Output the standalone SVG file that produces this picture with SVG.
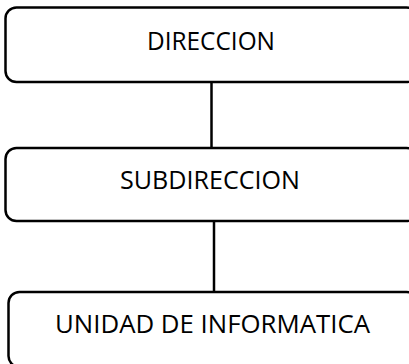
<svg xmlns="http://www.w3.org/2000/svg" width="409" height="364" viewBox="0 0 409 364">
<style>
.box{fill:#fff;stroke:#000;stroke-width:2.5}
.lbl{font-family:"Open Sans","Liberation Sans",sans-serif;font-size:25px;fill:#000;text-anchor:middle}
.con{stroke:#000;stroke-width:2.5;fill:none}
</style>
<rect width="409" height="364" fill="#fff"/>
<g id="connectors">
<line class="con" x1="211.5" y1="82" x2="211.5" y2="148"/>
<line class="con" x1="214" y1="221" x2="214" y2="292"/>
</g>
<g id="direccion">
<rect class="box" x="5.5" y="7.5" width="412" height="74.5" rx="11"/>
<text class="lbl" x="211" y="50" textLength="128" lengthAdjust="spacingAndGlyphs">DIRECCION</text>
</g>
<g id="subdireccion">
<rect class="box" x="5.5" y="148" width="412" height="73" rx="11"/>
<text class="lbl" x="210" y="189" textLength="180" lengthAdjust="spacingAndGlyphs">SUBDIRECCION</text>
</g>
<g id="unidad">
<rect class="box" x="8.5" y="292" width="409" height="75" rx="11"/>
<text class="lbl" x="212.5" y="333" textLength="315" lengthAdjust="spacingAndGlyphs">UNIDAD DE INFORMATICA</text>
</g>
</svg>
